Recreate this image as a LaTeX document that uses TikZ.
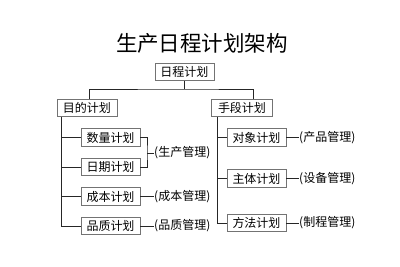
\documentclass[tikz,border=0pt]{standalone}
\usepackage{fontspec}
\setmainfont{Noto Sans CJK SC}
\begin{document}
\begin{tikzpicture}[x=1pt,y=-1pt,
  box/.style={draw=black!55,line width=0.9pt,fill=white,inner sep=0pt,minimum width=59pt,minimum height=17.5pt,font=\fontsize{12}{14}\selectfont},
  lbl/.style={anchor=west,inner sep=0pt,font=\fontsize{12}{14}\selectfont},
  conn/.style={draw=black!85,line width=1pt}]
\useasboundingbox (0,0) rectangle (400,266);
\node[inner sep=0pt,font=\fontsize{21.5}{24}\selectfont] (title) at (202,43) {生产日程计划架构};
\node[box] (top) at (184.5,72) {日程计划};
\node[box,minimum width=60pt] (L) at (87,108) {目的计划};
\node[box,minimum width=61pt] (R) at (242,108) {手段计划};
\node[box] (c1) at (110.5,137.5) {数量计划};
\node[box] (c2) at (110.5,167) {日期计划};
\node[box] (c3) at (110.5,196.5) {成本计划};
\node[box] (c4) at (110.5,226) {品质计划};
\node[box] (d1) at (256.5,137.5) {对象计划};
\node[box] (d2) at (256.5,178.5) {主体计划};
\node[box] (d3) at (256.5,223) {方法计划};
\node[lbl] (t1) at (154,153) {(生产管理)};
\node[lbl] (t3) at (154,196.5) {(成本管理)};
\node[lbl] (t4) at (154,226) {(品质管理)};
\node[lbl] (u1) at (299,137.5) {(产品管理)};
\node[lbl] (u2) at (299,178.5) {(设备管理)};
\node[lbl] (u3) at (299,223) {(制程管理)};
\coordinate (hb) at (185,89);
\coordinate (lt) at (61,117);
\coordinate (rt) at (217,117);
\coordinate (bk) at (147,153);
\draw[conn] (top.south) -- (top.south |- hb);
\draw[conn] ([xshift=2pt]L.north) |- (hb) -| ([xshift=11pt]R.north);
\draw[conn] (lt) |- (c4.west);
\foreach \c in {c1,c2,c3} \draw[conn] (\c.west -| lt) -- (\c.west);
\draw[conn] (rt) |- (d3.west);
\foreach \c in {d1,d2} \draw[conn] (\c.west -| rt) -- (\c.west);
\draw[conn] (c1.east) -| (bk) |- (c2.east);
\draw[conn] (bk) -- (t1.west);
\draw[conn] (c3.east) -- (t3.west);
\draw[conn] (c4.east) -- (t4.west);
\draw[conn] (d1.east) -- (u1.west);
\draw[conn] (d2.east) -- (u2.west);
\draw[conn] (d3.east) -- (u3.west);
\end{tikzpicture}
\end{document}
